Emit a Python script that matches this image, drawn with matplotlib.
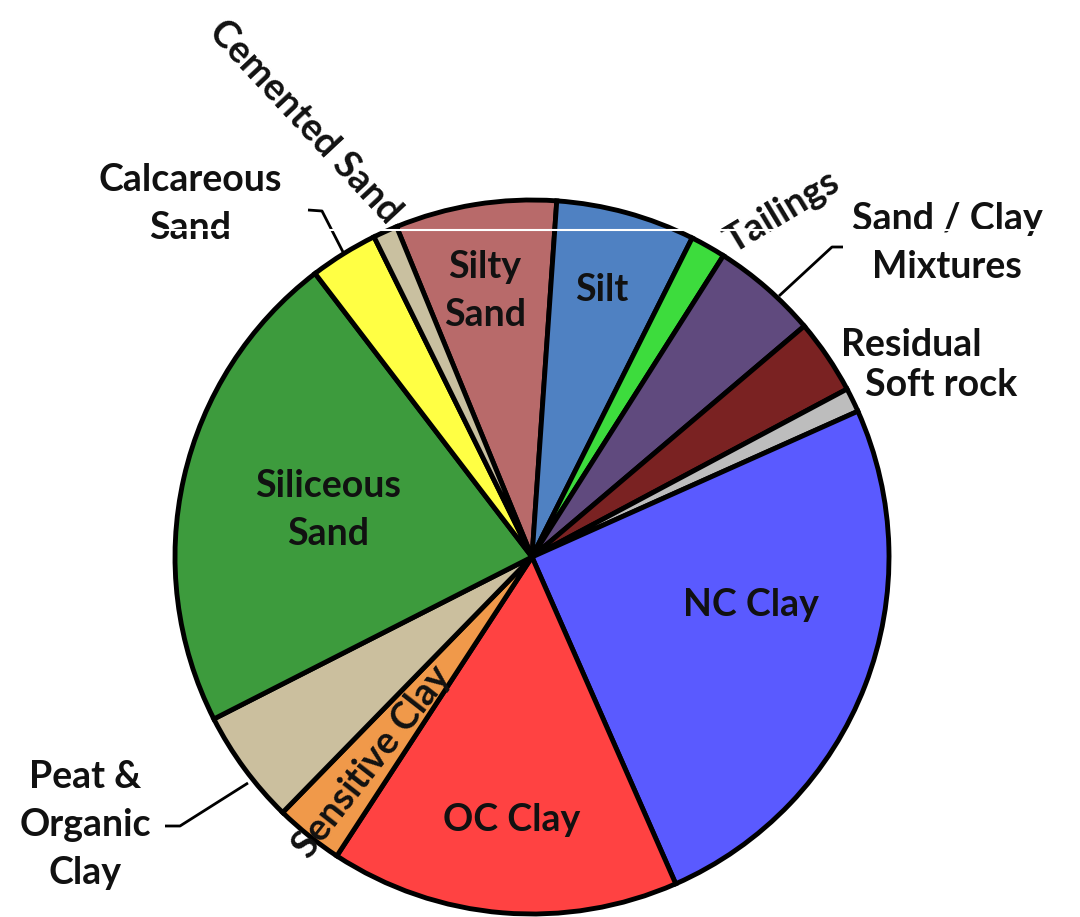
import matplotlib.pyplot as plt

# Parts de chaque type de sol (%), sens horaire depuis "Silty Sand"
labels = ['Silty Sand', 'Silt', 'Tailings', 'Sand / Clay Mixtures', 'Residual',
          'Soft rock', 'NC Clay', 'OC Clay', 'Sensitive Clay',
          'Peat & Organic Clay', 'Siliceous Sand', 'Calcareous Sand', 'Cemented Sand']
values = [7.3, 6.3, 1.6, 4.8, 3.4, 1.1, 25.1, 15.8, 3.1, 5.2, 22.1, 3.1, 1.1]
colors = ['#B86A6A', '#4F81C2', '#3DDC3D', '#604A7E', '#7A2222', '#BDBDBD',
          '#5A5AFF', '#FF4242', '#F0994A', '#CBBF9E', '#3D9B3D', '#FFFF44', '#C9C0A0']

W, H = 1080, 917
cx, cy, R = 532, H - 557, 357

plt.rcParams['font.family'] = ['Lato', 'DejaVu Sans']

fig = plt.figure(figsize=(W / 100, H / 100), dpi=100)
ax = fig.add_axes([0, 0, 1, 1])

ax.pie(values, colors=colors, startangle=112.3, counterclock=False,
       center=(cx, cy), radius=R, frame=True,
       wedgeprops=dict(edgecolor='black', linewidth=3.5))

ax.set_xlim(0, W)
ax.set_ylim(0, H)
ax.set_aspect('equal')
ax.axis('off')

fs = 27
ls = 1.5
kw = dict(fontsize=fs, fontweight='bold', ha='center', va='center', color='#111111')

def img(x, y):
    # coordonnées image (origine en haut à gauche) -> coordonnées des axes
    return x, H - y

# Étiquettes internes
ax.text(*img(485, 291), 'Silty\nSand', linespacing=ls, **kw)
ax.text(*img(602, 290), 'Silt', **kw)
ax.text(*img(751, 605), 'NC Clay', **kw)
ax.text(*img(512, 820), 'OC Clay', **kw)
ax.text(*img(328, 510), 'Siliceous\nSand', linespacing=ls, **kw)
ax.text(*img(372, 762), 'Sensitive Clay', rotation=52, rotation_mode='anchor', **kw)

# Étiquettes externes
ax.text(*img(305, 122), 'Cemented Sand', rotation=-47, rotation_mode='anchor', **kw)
ax.text(*img(190, 204), 'Calcareous\nSand', linespacing=ls, **kw)
ax.text(*img(782, 212), 'Tailings', rotation=31, rotation_mode='anchor', **kw)
ax.text(*img(947, 243), 'Sand / Clay\nMixtures', linespacing=ls, **kw)
ax.text(*img(911, 345), 'Residual', **kw)
ax.text(*img(941, 385), 'Soft rock', **kw)
ax.text(*img(85, 825), 'Peat &\nOrganic\nClay', linespacing=ls, **kw)

# Traits de rappel
lk = dict(color='black', linewidth=2, solid_capstyle='butt')
ax.plot(*zip(img(308, 210), img(322, 211), img(343, 252)), **lk)
ax.plot(*zip(img(843, 247), img(832, 247), img(779, 296)), **lk)
ax.plot(*zip(img(165, 826), img(180, 826), img(248, 783)), **lk)

# trait blanc horizontal de l'original
ax.plot(*zip(img(150, 230), img(1060, 230)), color='white', linewidth=1.5, zorder=10)

fig.savefig('out.png', dpi=100, facecolor='white')
